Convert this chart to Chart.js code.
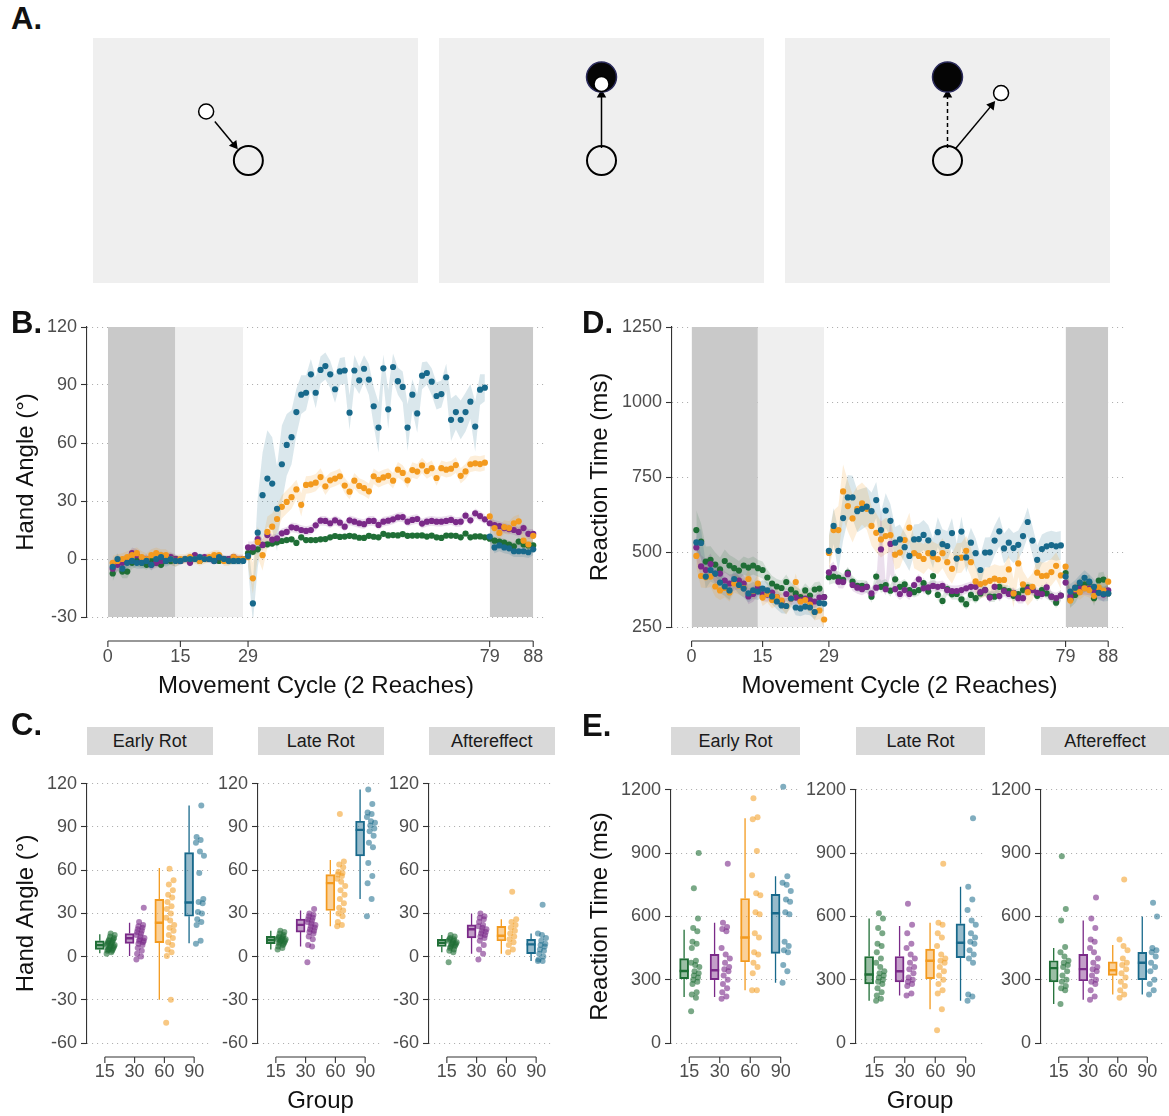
<!DOCTYPE html>
<html>
<head>
<meta charset="utf-8">
<title>Hand angle and reaction time by rotation group</title>
<script src="https://cdn.jsdelivr.net/npm/chart.js@4.4.1/dist/chart.umd.min.js"></script>
<style>
  body { margin: 0; background: #fff; font-family: 'Liberation Sans', Arial, sans-serif; }
  #fig { position: relative; width: 1169px; height: 1116px; overflow: hidden; background: #fff; }
  .pl { position: absolute; font-weight: bold; font-size: 31px; line-height: 31px; color: #111; }
  .strip { position: absolute; height: 28px; line-height: 29px; background: #d9d9d9; color: #1a1a1a;
           font-size: 18px; text-align: center; }
  canvas { position: absolute; }
</style>
</head>
<body>
<div id="fig"></div>
<script>
// ---- data ----
const groups = ['15', '30', '60', '90'];
const cycleTicks = [0, 15, 29, 79, 88];
const phaseBands = [[0, 14], [14, 28], [79, 88]];      // no-feedback / veridical / aftereffect shading
const phaseSegments = [[1, 28], [29, 78], [79, 88]];   // cycles per phase (CI bands are split here)
const handTicks = [-30, 0, 30, 60, 90, 120];
const rtTicks = [250, 500, 750, 1000, 1250];
const handBoxTicks = [-60, -30, 0, 30, 60, 90, 120];
const rtBoxTicks = [0, 300, 600, 900, 1200];
const phaseNames = ['Early Rot', 'Late Rot', 'Aftereffect'];

// mean hand angle per cycle (1..88)
const hand15 = [
  -7.5, -2, -6.5, -6.5, -2, -1, -2, -3, -1, -2, -3, -1, -1, 0, -1, 0, -0.5, 0, -1, 0.5, 0, 0, -1, 0, 0, -1, -0.5, 0,
  3, 3.7, 5, 7.3, 7.6, 8, 8.6, 9.3, 9.8, 10.2, 8.3, 11.2, 9.8, 9.8, 9.8, 10.2, 10.3, 11.2, 11.9, 11.4, 11.6, 12,
  11.7, 11, 10.9, 12, 11.5, 11.2, 13, 12.2, 12.4, 12.2, 12.9, 12, 12.1, 12.1, 12.2, 11.6, 12.1, 11.2, 10.9, 12.1,
  12.1, 12, 11.2, 13.2, 11.2, 11.7, 11.7, 11.2,
  10.5, 9.5, 9, 8.5, 7.5, 6.5, 9, 7.5, 7, 7
];
const hand30 = [
  -5, -3, -2, -1, 3, 2, -1, 0, -3, -2, -1, 0, 1, 0, -1, 0, -2, 2, 0, 1, 0, -1, 1, 0, 0, 1, 0, 0,
  6, 6, 10.3, 7.3, 12.4, 10, 10.7, 13.3, 14, 16.4, 16, 15, 14.5, 15, 17.4, 19.8, 19.7, 18.5, 20, 18.8,
  16.7, 20, 19.3, 18.5, 18, 19.7, 19.7, 17.6, 19.3, 19.8, 20.5, 21.6, 21.7, 19.3, 20.2, 20.7, 18.3, 19.3,
  19.7, 19.3, 19.3, 19.7, 20.2, 19.1, 19.3, 22.4, 20, 23.6, 22.2, 20.5,
  18.5, 17.5, 17, 16, 15.5, 15, 14, 16, 13, 13
];
const hand60 = [
  -2, -1, 0, 1, 2, 3, 1, 0, 2, 3, 2, 2, 0, -1, 0, 0, 1, 0, -1, 0, 1, 2, 2, -1, -1, 1, 0, 0,
  1, -10, 8.8, 2, 14, 16.7, 20.7, 27, 29.5, 32, 36, 28, 38.3, 38.6, 39.5, 42.4, 37.6, 40.7, 41.6, 42.8,
  38, 34.8, 40.5, 37.8, 36.7, 35, 42.8, 41, 42.2, 43, 40.5, 46.2, 44.5, 40.7, 46, 45.2, 48.4, 45.5,
  47, 41.9, 47, 46.2, 46.7, 48.6, 43, 45.3, 49, 49.5, 49.1, 49.8,
  22, 16, 13.5, 16.5, 16, 18.5, 19.5, 9.5, 7.5, 12
];
const hand90 = [
  -4, 0, -5, -2, -1, -2, -2, -1, -3, 0, 1, -1, 0, -1, -1, 0, 0, 0, 1, 0, 0, -1, 1, 0, -1, -1, -1, -1,
  1.5, -23, 13.6, 33, 41.6, 39, 26, 49, 59, 63, 76, 85, 86, 95.5, 86, 97.8, 99.8, 95.5, 87.8, 97,
  97.5, 75.7, 97.5, 92.4, 98.4, 92.8, 79, 68, 98.6, 77.4, 99.3, 92, 89, 68, 85, 75.3, 94.8, 96.2,
  91.7, 84.3, 85.3, 94, 72, 76, 72, 76, 81.4, 68.5, 87.6, 88.6,
  11.6, 6, 7, 6, 5.5, 4, 4, 4, 3.5, 5
];
// CI half-widths for hand angle
const handCi15 = [
  4, 4, 3.5, 3.5, 3, 3, 2.5, 2.5, 2.5, 2, 2, 2, 2, 2, 1.5, 1.5, 1.5, 1.5, 1.5, 1.5, 1.5, 1.5, 1.5, 1.5, 1.5, 1.5, 1.5, 1.5,
  2, 2, 2, 2, 2, 1.5, 1.5, 1.5, 1.5, 1.5, 2, 1.5, 1.5, 1.5, 1.5, 1.5, 1.5, 1.5, 1.5, 1.5,
  1.5, 1.5, 1.5, 1.5, 1.5, 1.5, 1.5, 1.5, 1.5, 1.5, 1.5, 1.5, 1.5, 1.5, 1.5, 1.5, 1.5, 1.5,
  1.5, 1.5, 1.5, 1.5, 1.5, 1.5, 1.5, 1.5, 1.5, 1.5, 1.5, 1.5,
  2, 2, 2, 2, 2, 2, 2, 2, 2, 2
];
const handCi30 = [
  4, 3.5, 3.5, 3, 3, 3, 2.5, 2.5, 2.5, 2.5, 2.5, 2.5, 2.5, 2.5, 2, 2, 2, 2, 2, 2, 2, 2, 2, 2, 2, 2, 2, 2,
  3, 3, 3, 3, 3, 2.5, 2.5, 2.5, 2.5, 2.5, 2.5, 2.5, 2.5, 2.5, 2.5, 2.5, 2.5, 2.5, 2.5, 2.5,
  2.5, 2.5, 2.5, 2.5, 2.5, 2.5, 2.5, 2.5, 2.5, 2.5, 2.5, 2.5, 2.5, 2.5, 2.5, 2.5, 2.5, 2.5,
  2.5, 2.5, 2.5, 2.5, 2.5, 2.5, 2.5, 2.5, 2.5, 2.5, 2.5, 2.5,
  2.5, 2.5, 2.5, 2.5, 2.5, 2.5, 2.5, 2.5, 2.5, 2.5
];
const handCi60 = [
  3.5, 3.5, 3, 3, 3, 3, 3, 3, 3, 3, 3, 3, 3, 3, 2.5, 2.5, 2.5, 2.5, 2.5, 2.5, 2.5, 2.5, 2.5, 2.5, 2.5, 2.5, 2.5, 2.5,
  5, 8, 8, 8, 8, 7, 7, 6, 6, 6, 5, 6, 4.5, 4.5, 4.5, 4.5, 4.5, 4, 4, 4,
  4, 4, 4, 4, 4, 4, 4, 4, 4, 4, 4, 4, 4, 4, 4, 4, 4, 4,
  4, 4, 4, 4, 4, 4, 4, 4, 4, 4, 4, 4,
  3.5, 3.5, 3.5, 3.5, 3.5, 3.5, 3.5, 3.5, 3.5, 3.5
];
const handCi90 = [
  3, 3, 3, 3, 3, 3, 3, 3, 3, 3, 3, 3, 3, 3, 2, 2, 2, 2, 2, 2, 2, 2, 2, 2, 2, 2, 2, 2,
  6, 10, 18, 22, 25, 24, 22, 20, 16, 14, 12, 10, 9, 8, 8, 7, 7, 7, 7, 7,
  7, 9, 8, 7, 7, 8, 10, 13, 7, 10, 7, 7, 8, 12, 8, 10, 7, 6,
  7, 7, 7, 7, 11, 9, 10, 10, 9, 13, 8, 7,
  3, 3, 3, 3, 3, 3, 3, 3, 3, 3
];

// mean reaction time (ms) per cycle (1..88)
const rt15 = [
  573, 535, 468, 474, 458, 442, 470, 455, 446, 438, 455, 448, 455, 446, 440, 415, 395, 385, 380, 400, 375, 362, 350, 372, 355, 375, 378, 350,
  416, 418, 415, 407, 431, 401, 387, 387, 384, 351, 418, 384, 390, 371, 409, 384, 392, 373, 366, 373,
  396, 368, 420, 357, 337, 376, 359, 360, 342, 326, 357, 346, 362, 373, 351, 351, 384, 373,
  370, 354, 360, 373, 382, 376, 354, 373, 362, 351, 331, 355,
  430, 342, 357, 385, 392, 398, 346, 405, 408, 362
];
const rt30 = [
  515, 452, 440, 460, 428, 428, 405, 395, 400, 405, 395, 352, 360, 380, 360, 358, 365, 350, 335, 360, 345, 348, 340, 345, 340, 335, 348, 350,
  432, 446, 401, 400, 426, 390, 381, 376, 384, 362, 381, 509, 376, 527, 376, 360, 373, 360, 390, 409,
  379, 382, 387, 384, 387, 373, 370, 370, 373, 379, 384, 384, 366, 373, 348, 384, 353, 370,
  360, 364, 346, 346, 376, 373, 364, 360, 382, 351, 346, 355,
  398, 352, 372, 378, 380, 378, 372, 366, 358, 372
];
const rt60 = [
  487, 420, 416, 418, 385, 372, 380, 365, 395, 388, 380, 410, 370, 395, 348, 360, 340, 350, 338, 320, 345, 400, 335, 340, 325, 300, 305, 275,
  497, 573, 573, 702, 653, 612, 644, 662, 644, 587, 564, 542, 553, 556, 491, 498, 540, 581, 496, 487,
  477, 496, 484, 476, 496, 466, 444, 479, 481, 504, 466, 402, 393, 398, 404, 411, 406, 407,
  442, 362, 462, 392, 366, 384, 431, 420, 421, 433, 454, 422,
  451, 338, 376, 366, 379, 373, 354, 382, 371, 401
];
const rt90 = [
  532, 530, 418, 440, 428, 398, 385, 372, 410, 390, 378, 362, 372, 368, 378, 372, 352, 335, 322, 320, 345, 315, 312, 318, 315, 300, 330, 328,
  504, 587, 504, 613, 682, 682, 636, 644, 651, 636, 673, 573, 638, 604, 531, 542, 516, 487, 542, 543,
  557, 539, 496, 566, 526, 520, 563, 478, 568, 482, 531, 496, 440, 498, 499, 538, 569, 512,
  531, 513, 524, 553, 600, 538, 474, 510, 519, 523, 519, 522,
  418, 368, 381, 398, 414, 401, 384, 364, 360, 362
];
// CI half-widths for reaction time
const rtCi15 = [
  65, 60, 50, 45, 40, 40, 38, 35, 35, 32, 30, 30, 30, 28, 28, 26, 26, 25, 25, 25, 24, 24, 24, 24, 24, 24, 24, 24,
  25, 22, 22, 20, 20, 20, 20, 20, 20, 20, 20, 20, 20, 20, 20, 18, 18, 18, 18, 18,
  18, 18, 18, 18, 18, 18, 18, 18, 18, 18, 18, 18, 18, 18, 18, 18, 18, 18,
  18, 18, 18, 18, 18, 18, 18, 18, 18, 18, 18, 20,
  28, 28, 28, 28, 26, 26, 26, 26, 26, 26
];
const rtCi30 = [
  40, 38, 35, 35, 32, 30, 30, 30, 28, 28, 28, 26, 26, 26, 24, 24, 24, 24, 22, 22, 22, 22, 22, 22, 22, 22, 22, 22,
  22, 22, 22, 22, 22, 20, 20, 20, 20, 20, 20, 130, 20, 100, 20, 20, 20, 20, 18, 18,
  18, 18, 18, 18, 18, 18, 18, 18, 18, 18, 18, 18, 18, 18, 18, 18, 18, 18,
  18, 18, 18, 18, 18, 18, 18, 18, 18, 18, 18, 18,
  22, 22, 22, 22, 22, 22, 22, 22, 22, 22
];
const rtCi60 = [
  40, 38, 36, 35, 34, 32, 32, 30, 30, 30, 30, 30, 30, 30, 28, 28, 28, 28, 28, 28, 28, 28, 28, 28, 28, 28, 28, 28,
  55, 65, 80, 90, 85, 80, 75, 70, 70, 65, 65, 60, 60, 55, 50, 50, 50, 50, 50, 50,
  50, 50, 50, 50, 50, 50, 50, 50, 50, 50, 48, 48, 48, 48, 48, 48, 48, 48,
  48, 48, 45, 45, 45, 45, 45, 45, 45, 45, 45, 45,
  25, 25, 25, 25, 25, 25, 25, 25, 25, 25
];
const rtCi90 = [
  45, 45, 40, 38, 36, 34, 32, 32, 30, 30, 30, 30, 28, 28, 28, 28, 26, 26, 26, 26, 26, 26, 26, 26, 26, 26, 26, 26,
  50, 60, 70, 75, 75, 72, 70, 68, 65, 62, 60, 60, 58, 55, 52, 50, 50, 50, 50, 50,
  50, 50, 50, 50, 50, 50, 50, 50, 50, 50, 50, 50, 50, 50, 50, 50, 50, 50,
  50, 50, 48, 48, 48, 48, 48, 48, 48, 48, 48, 48,
  25, 25, 25, 25, 25, 25, 25, 25, 25, 25
];

// per-participant hand angle (deg), groups 15/30/60/90
const handEarly = [
  [2, 3, 4, 4, 5, 5, 5, 6, 6, 7, 7, 8, 8, 8, 9, 9, 10, 10, 11, 11, 12, 12, 13, 14, 15, 16],
  [-2, 0, 2, 4, 6, 8, 9, 10, 11, 11, 12, 13, 14, 15, 16, 17, 18, 19, 20, 21, 22, 24, 34],
  [-46, -30, 0.5, 3, 5, 8, 10, 13, 15, 18, 20, 22, 25, 27, 30, 33, 35, 38, 41, 43, 46, 50, 53, 61],
  [9, 11, 22, 24, 26, 30, 31, 37, 38, 40, 58, 70, 73, 79, 81, 83, 105]
];
const handLate = [
  [5, 6, 7, 8, 9, 9, 10, 10, 11, 11, 11, 12, 12, 12, 13, 13, 14, 14, 15, 16, 17, 18],
  [-4, 7, 8, 12, 14, 16, 17, 18, 19, 20, 21, 22, 23, 24, 25, 26, 27, 28, 29, 30, 33],
  [21, 22, 24, 28, 30, 32, 34, 37, 40, 43, 46, 49, 52, 54, 56, 57, 58, 59, 62, 64, 66, 99],
  [28, 40, 51, 56, 65, 76, 79, 84, 87, 89, 91, 93, 94, 97, 99, 100, 106, 116]
];
const handAfter = [
  [-4, 3, 4, 5, 6, 7, 7, 8, 8, 9, 9, 10, 10, 11, 11, 12, 12, 13, 14, 15],
  [-2, 2, 5, 8, 11, 13, 14, 15, 16, 17, 18, 19, 20, 21, 22, 24, 26, 27, 28, 30],
  [3, 5, 8, 10, 12, 14, 16, 18, 20, 22, 24, 26, 45],
  [-3, -3, -2, 0, 2, 4, 5, 7, 8, 9, 11, 13, 15, 16, 36]
];
// box stats: [lower whisker, q1, median, q3, upper whisker]
const handEarlyBox = [[2.3, 5, 8, 11, 15.5], [0.5, 9.2, 12.7, 16, 23.5], [-30, 9.7, 23.5, 39.7, 61.6], [9.2, 28, 37.6, 72.2, 105]];
const handLateBox = [[5, 9, 11.5, 14, 18], [7, 17, 22, 26, 32], [21, 32, 51, 57, 67], [40, 70, 88, 94, 116]];
const handAfterBox = [[3, 7, 9.5, 12, 15], [2, 13, 19, 22, 30], [2, 11, 14.5, 21, 26], [-3, 2, 8.5, 12, 16]];

// per-participant reaction time (ms)
const rtEarly = [
  [150, 215, 230, 240, 280, 290, 300, 310, 320, 330, 340, 360, 370, 380, 390, 450, 470, 480, 530, 545, 590, 733, 900],
  [210, 220, 240, 260, 280, 300, 320, 340, 350, 360, 380, 400, 420, 450, 530, 540, 550, 570, 850],
  [250, 250, 330, 360, 380, 420, 430, 500, 520, 610, 620, 700, 710, 795, 910, 1060, 1070, 1160],
  [285, 340, 370, 430, 440, 460, 480, 610, 620, 670, 680, 720, 750, 760, 790, 1215]
];
const rtLate = [
  [200, 210, 225, 240, 260, 280, 290, 300, 310, 320, 330, 340, 360, 380, 400, 430, 460, 470, 520, 545, 590, 615],
  [225, 235, 270, 280, 290, 300, 310, 330, 350, 360, 380, 400, 420, 450, 470, 520, 560, 660],
  [60, 160, 235, 250, 280, 300, 320, 340, 360, 380, 390, 400, 420, 460, 500, 520, 560, 570, 850],
  [200, 220, 230, 380, 400, 420, 440, 470, 480, 500, 520, 560, 580, 630, 680, 740, 1065]
];
const rtAfter = [
  [185, 250, 260, 270, 290, 300, 320, 340, 360, 370, 380, 390, 410, 430, 455, 580, 635, 885],
  [205, 220, 250, 280, 290, 300, 320, 340, 350, 360, 380, 400, 430, 450, 480, 490, 545, 590, 690],
  [215, 230, 250, 270, 290, 310, 330, 350, 370, 380, 400, 440, 460, 490, 775],
  [230, 250, 280, 300, 340, 360, 380, 410, 430, 440, 450, 600, 665]
];
const rtEarlyBox = [[218, 305, 341, 400, 537], [218, 300, 345, 420, 570], [250, 385, 500, 685, 1065], [285, 425, 615, 705, 790]];
const rtLateBox = [[200, 280, 325, 410, 590], [225, 290, 340, 410, 555], [160, 305, 390, 445, 570], [200, 405, 475, 565, 740]];
const rtAfterBox = [[185, 290, 355, 390, 450], [205, 295, 350, 420, 580], [230, 320, 345, 385, 465], [230, 300, 380, 430, 600]];

// task schematic (panel A), workspace units, start position at origin
const startPos = [[-0.66, 0], [0, 0], [0, 0]];
const targetPos = [null, [0, 8], [0, 8]];
const cursorPos = [[-4.56, 4.7], [0, 7.33], [4.95, 6.47]];
const handPath = [[-3.76, 3.75, -1.77, 1.25], [0, 1.2, 0, 6.6], [0.75, 1.16, 4.27, 5.53]];
const targetPath = [null, null, [0, 1.2, 0, 6.6]];

// ---- styles ----
const groupColors = ['#1f6e36', '#7a2a88', '#f39a1e', '#18698b'];
const ciFills = ['rgba(31,110,54,0.15)', 'rgba(122,42,136,0.15)', 'rgba(243,154,30,0.17)', 'rgba(24,105,139,0.16)'];
const boxFills = ['rgba(31,110,54,0.45)', 'rgba(122,42,136,0.45)', 'rgba(243,154,30,0.45)', 'rgba(24,105,139,0.45)'];
const dotFills = ['rgba(31,110,54,0.6)', 'rgba(122,42,136,0.6)', 'rgba(243,154,30,0.55)', 'rgba(24,105,139,0.55)'];
const bandShades = ['#c9c9c9', '#efefef', '#c9c9c9'];
const axisColor = '#333333';
const tickFont = { size: 18 };
const titleFont = { size: 24 };
const NONE = 'rgba(0,0,0,0)';

Chart.defaults.font.family = "'Liberation Sans', Arial, sans-serif";

// bottom axis line drawn below the panel, spanning first..last tick
Chart.register({
  id: 'offsetAxis',
  afterDraw(chart, args, opts) {
    if (!opts || !opts.ticks) return;
    const xs = chart.scales.x, ctx = chart.ctx;
    const y = chart.chartArea.bottom + opts.gap;
    ctx.save();
    ctx.strokeStyle = axisColor;
    ctx.lineWidth = 1.1;
    ctx.beginPath();
    ctx.moveTo(xs.getPixelForValue(opts.ticks[0]), y);
    ctx.lineTo(xs.getPixelForValue(opts.ticks[opts.ticks.length - 1]), y);
    opts.ticks.forEach(v => {
      const px = xs.getPixelForValue(v);
      ctx.moveTo(px, y);
      ctx.lineTo(px, y + 6);
    });
    ctx.stroke();
    ctx.restore();
  }
});

const fig = document.getElementById('fig');

function makeCanvas(left, top, w, h, bg) {
  const c = document.createElement('canvas');
  c.width = w; c.height = h;
  c.style.left = left + 'px'; c.style.top = top + 'px';
  c.style.width = w + 'px'; c.style.height = h + 'px';
  if (bg) c.style.background = bg;
  fig.appendChild(c);
  return c;
}

function addDiv(cls, text, left, top, width) {
  const d = document.createElement('div');
  d.className = cls;
  d.textContent = text;
  d.style.left = left + 'px';
  d.style.top = top + 'px';
  if (width) d.style.width = width + 'px';
  fig.appendChild(d);
}

function yAxis(o) {
  return {
    type: 'linear', min: o.min, max: o.max,
    afterBuildTicks: s => { s.ticks = o.ticks.map(v => ({ value: v })); },
    afterFit: s => { s.width = o.width; },
    grid: { color: '#a8a8a8', lineWidth: 1, drawTicks: true, tickLength: 6, tickColor: axisColor, tickWidth: 1.1, tickBorderDash: [] },
    border: { display: true, color: axisColor, width: 1.1, dash: [1, 4] },
    ticks: { padding: 4, color: '#4d4d4d', font: tickFont, autoSkip: false, callback: v => String(v) },
    title: { display: !!o.title, text: o.title || '', color: '#111', font: titleFont, padding: { top: o.titlePad || 0, bottom: 0 } }
  };
}

// label offset goes through an invisible tick mark so it does not shrink the plot width
function xAxis(o) {
  return {
    type: 'linear', min: o.min, max: o.max, offset: false,
    afterBuildTicks: s => { s.ticks = o.ticks.map(v => ({ value: v })); },
    afterFit: s => { s.height = o.height; },
    grid: { display: true, offset: false, drawOnChartArea: false, drawTicks: true, tickLength: o.drop, tickColor: NONE },
    border: { display: false },
    ticks: { padding: 0, color: '#4d4d4d', font: tickFont, autoSkip: false, maxRotation: 0, callback: o.label || (v => String(v)) },
    title: { display: !!o.title, text: o.title || '', color: '#111', font: titleFont, padding: { top: 0, bottom: o.titlePad || 0 } }
  };
}

function baseOptions(pad, scales, axisGap, axisTicks) {
  return {
    responsive: false, animation: false, events: [],
    layout: { padding: pad },
    plugins: { legend: { display: false }, tooltip: { enabled: false }, offsetAxis: { gap: axisGap, ticks: axisTicks } },
    scales
  };
}

// ---- B / D: time course ----
function courseChart(box, series, cis, y, x) {
  const canvas = makeCanvas(box.left, box.top, box.w, box.h);
  const datasets = [];
  phaseBands.forEach((b, i) => datasets.push({
    type: 'line', order: 30, data: [{ x: b[0], y: y.max }, { x: b[1], y: y.max }],
    fill: 'start', backgroundColor: bandShades[i], borderColor: NONE, borderWidth: 0, pointRadius: 0
  }));
  series.forEach((vals, g) => {
    phaseSegments.forEach(([a, b]) => {
      const up = [], lo = [];
      for (let c = a; c <= b; c++) {
        up.push({ x: c, y: vals[c - 1] + cis[g][c - 1] });
        lo.push({ x: c, y: vals[c - 1] - cis[g][c - 1] });
      }
      datasets.push({ type: 'line', order: 20, data: up, fill: '+1', backgroundColor: ciFills[g], borderColor: NONE, borderWidth: 0, pointRadius: 0 });
      datasets.push({ type: 'line', order: 20, data: lo, fill: false, borderColor: NONE, borderWidth: 0, pointRadius: 0 });
    });
  });
  series.forEach((vals, g) => datasets.push({
    type: 'scatter', order: 3 - g, data: vals.map((v, i) => ({ x: i + 1, y: v })),
    pointRadius: 3.1, backgroundColor: groupColors[g], borderWidth: 0, clip: false
  }));
  new Chart(canvas, {
    type: 'scatter',
    data: { datasets },
    options: baseOptions(box.pad, { x: xAxis(x), y: yAxis(y) }, x.gap, cycleTicks)
  });
}

courseChart({ left: 0, top: 300, w: 560, h: 410, pad: { top: 27, right: 15, left: 0, bottom: 0 } },
  [hand15, hand30, hand60, hand90], [handCi15, handCi30, handCi60, handCi90],
  { min: -30, max: 120, ticks: handTicks, width: 87, title: 'Hand Angle (°)', titlePad: 12 },
  { min: -4.32, max: 90.44, ticks: cycleTicks, height: 93, drop: 29, gap: 24, title: 'Movement Cycle (2 Reaches)', titlePad: 9 });

courseChart({ left: 580, top: 300, w: 589, h: 410, pad: { top: 27, right: 42, left: 0, bottom: 0 } },
  [rt15, rt30, rt60, rt90], [rtCi15, rtCi30, rtCi60, rtCi90],
  { min: 250, max: 1250, ticks: rtTicks, width: 92, title: 'Reaction Time (ms)', titlePad: 6 },
  { min: -4.14, max: 91.97, ticks: cycleTicks, height: 83, drop: 19, gap: 14, title: 'Movement Cycle (2 Reaches)', titlePad: 9 });

// ---- C / E: box plots with individual participants ----
const boxShift = -0.17;
const medHalf = 0.15;
const jitter = k => 0.06 + 0.27 * (((k * 7) % 13) / 12);

function boxChart(box, points, stats, y, x) {
  const canvas = makeCanvas(box.left, box.top, box.w, box.h);
  const datasets = [{
    type: 'bar', order: 5,
    data: stats.map((s, g) => ({ x: g + 1 + boxShift, y: [s[1], s[3]] })),
    backgroundColor: boxFills, borderColor: groupColors, borderWidth: 1.3, borderSkipped: false, barThickness: 9
  }];
  stats.forEach((s, g) => {
    const xc = g + 1 + boxShift;
    [[s[0], s[1]], [s[3], s[4]]].forEach(([a, b]) => datasets.push({
      type: 'line', order: 4, data: [{ x: xc, y: a }, { x: xc, y: b }],
      borderColor: groupColors[g], borderWidth: 1.3, pointRadius: 0, fill: false
    }));
    datasets.push({
      type: 'line', order: 1, data: [{ x: xc - medHalf, y: s[2] }, { x: xc + medHalf, y: s[2] }],
      borderColor: groupColors[g], borderWidth: 2.4, pointRadius: 0, fill: false
    });
  });
  points.forEach((vals, g) => datasets.push({
    type: 'scatter', order: 0, data: vals.map((v, k) => ({ x: g + 1 + jitter(k), y: v })),
    pointRadius: 3, backgroundColor: dotFills[g], borderWidth: 0, clip: false
  }));
  new Chart(canvas, {
    type: 'scatter',
    data: { datasets },
    options: baseOptions(box.pad, { x: xAxis(x), y: yAxis(y) }, 14, [1, 2, 3, 4])
  });
}

const groupLabel = v => groups[v - 1];
const handSets = [[handEarly, handEarlyBox], [handLate, handLateBox], [handAfter, handAfterBox]];
const rtSets = [[rtEarly, rtEarlyBox], [rtLate, rtLateBox], [rtAfter, rtAfterBox]];

const cPanels = [
  { left: 0, w: 216, yw: 87 }, { left: 216, w: 171, yw: 42 }, { left: 387, w: 171, yw: 42 }
];
cPanels.forEach((p, i) => {
  boxChart({ left: p.left, top: 769, w: p.w, h: 347, pad: { top: 14, right: 3.5, left: 0, bottom: 0 } },
    handSets[i][0], handSets[i][1],
    { min: -60, max: 120, ticks: handBoxTicks, width: p.yw, title: i === 0 ? 'Hand Angle (°)' : '', titlePad: 12 },
    { min: 0.4, max: 4.6, ticks: [1, 2, 3, 4], height: 73, drop: 18, label: groupLabel, title: i === 1 ? 'Group' : '', titlePad: 0 });
  addDiv('strip', phaseNames[i], p.left + p.yw, 727, p.w - p.yw - 3.5);
});

const ePanels = [
  { left: 580, w: 223, yw: 91, pr: 3 }, { left: 803, w: 185, yw: 53, pr: 3 }, { left: 988, w: 181, yw: 53, pr: 0 }
];
ePanels.forEach((p, i) => {
  boxChart({ left: p.left, top: 775, w: p.w, h: 341, pad: { top: 14, right: p.pr, left: 0, bottom: 0 } },
    rtSets[i][0], rtSets[i][1],
    { min: 0, max: 1200, ticks: rtBoxTicks, width: p.yw, title: i === 0 ? 'Reaction Time (ms)' : '', titlePad: 6 },
    { min: 0.4, max: 4.6, ticks: [1, 2, 3, 4], height: 73, drop: 18, label: groupLabel, title: i === 1 ? 'Group' : '', titlePad: 0 });
  addDiv('strip', phaseNames[i], p.left + p.yw, 727, p.w - p.yw - p.pr);
});

// ---- A: task schematic ----
const schematicLefts = [93, 439, 785];
schematicLefts.forEach((left, i) => {
  const canvas = makeCanvas(left, 38, 325, 245, '#efefef');
  const datasets = [];
  const arrow = (p, dash) => {
    datasets.push({ type: 'line', order: 3, data: [{ x: p[0], y: p[1] }, { x: p[2], y: p[3] }],
      borderColor: '#000', borderWidth: 1.5, borderDash: dash, pointRadius: 0, fill: false });
    const dx = p[2] - p[0], dy = p[3] - p[1], len = Math.hypot(dx, dy);
    datasets.push({ type: 'scatter', order: 2,
      data: [{ x: p[2] - dx / len * 0.3, y: p[3] - dy / len * 0.3 }],
      pointStyle: 'triangle', rotation: Math.atan2(dx, dy) * 180 / Math.PI,
      pointRadius: 5.5, backgroundColor: '#000', borderWidth: 0 });
  };
  arrow(handPath[i], []);
  if (targetPath[i]) arrow(targetPath[i], [4, 3]);
  datasets.push({ type: 'scatter', order: 4, data: [{ x: startPos[i][0], y: startPos[i][1] }],
    pointRadius: 14.5, backgroundColor: NONE, borderColor: '#000', borderWidth: 2 });
  if (targetPos[i]) datasets.push({ type: 'scatter', order: 1, data: [{ x: targetPos[i][0], y: targetPos[i][1] }],
    pointRadius: 15, backgroundColor: '#050505', borderColor: '#2b2b5c', borderWidth: 1.5 });
  datasets.push({ type: 'scatter', order: 0, data: [{ x: cursorPos[i][0], y: cursorPos[i][1] }],
    pointRadius: 7.5, backgroundColor: '#ffffff', borderColor: '#000', borderWidth: 1.5 });
  new Chart(canvas, {
    type: 'scatter',
    data: { datasets },
    options: {
      responsive: false, animation: false, events: [],
      layout: { padding: 0 },
      plugins: { legend: { display: false }, tooltip: { enabled: false }, offsetAxis: false },
      scales: {
        x: { display: false, min: -13.49, max: 13.49 },
        y: { display: false, min: -10.17, max: 10.17 }
      }
    }
  });
});

// panel letters
addDiv('pl', 'A.', 11, 3);
addDiv('pl', 'B.', 11, 307);
addDiv('pl', 'D.', 582, 307);
addDiv('pl', 'C.', 11, 709);
addDiv('pl', 'E.', 582, 710);
</script>
</body>
</html>
